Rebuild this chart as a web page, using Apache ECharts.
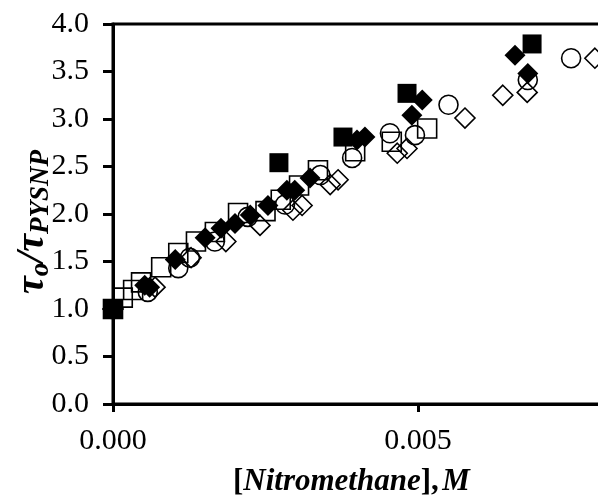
<!DOCTYPE html>
<html>
<head>
<meta charset="utf-8">
<script src="https://cdn.jsdelivr.net/npm/echarts@6/dist/echarts.min.js"></script>
<style>html,body{margin:0;padding:0;background:#fff}#c{width:598px;height:495px}</style>
</head>
<body>
<div id="c"></div>
<script>
// ---- data (x = [Nitromethane] M, y = tau0/tau) ----
const filledSquares = [[0,1.0],[0.00272,2.54],[0.00377,2.81],[0.00482,3.27],[0.00687,3.79]];
const filledDiamonds = [[0,1.0],[0.00052,1.25],[0.0006,1.23],[0.00102,1.52],[0.00151,1.75],[0.00177,1.85],[0.002,1.9],[0.00225,1.99],[0.00254,2.09],[0.00285,2.25],[0.00298,2.25],[0.00323,2.38],[0.004,2.78],[0.00413,2.81],[0.0049,3.04],[0.00507,3.2],[0.00659,3.67],[0.0068,3.48]];
const openCircles = [[0,1.0],[0.00057,1.18],[0.00107,1.43],[0.00126,1.54],[0.00167,1.71],[0.00221,1.97],[0.00282,2.1],[0.0034,2.41],[0.00392,2.59],[0.00454,2.85],[0.00495,2.83],[0.0055,3.15],[0.0068,3.41],[0.00751,3.64]];
const openSquares = [[0,1.0],[0.00016,1.12],[0.00033,1.2],[0.00046,1.28],[0.00079,1.44],[0.00107,1.59],[0.00136,1.71],[0.00167,1.81],[0.00205,2.01],[0.0025,2.03],[0.00275,2.15],[0.00305,2.3],[0.00336,2.46],[0.00397,2.66],[0.00457,2.76],[0.00515,2.9]];
const openDiamonds = [[0,1.0],[0.00069,1.23],[0.00128,1.54],[0.00185,1.71],[0.00241,1.88],[0.00295,2.04],[0.0031,2.09],[0.00356,2.31],[0.00369,2.36],[0.00466,2.64],[0.00482,2.69],[0.00577,3.01],[0.00639,3.25],[0.00679,3.28],[0.0079,3.64]];
const xTicks = {min:0, max:0.010, interval:0.005};
const yTicks = {min:0, max:4, interval:0.5};

const serif = '"Liberation Serif","Times New Roman",serif';
const chart = echarts.init(document.getElementById('c'), null, {renderer:'canvas'});
const openStyle = {color:'transparent', borderColor:'#000', borderWidth:1.6, opacity:1};
chart.setOption({
  animation:false,
  grid:{left:113, top:24, width:610, height:380, outerBoundsMode:'none', containLabel:false, show:true, borderColor:'#000', borderWidth:3, backgroundColor:'transparent'},
  xAxis:{type:'value', min:xTicks.min, max:xTicks.max, interval:xTicks.interval,
    axisLine:{show:true, onZero:false, lineStyle:{color:'#000', width:3}},
    axisTick:{show:true, inside:false, length:8, lineStyle:{color:'#000', width:3}},
    splitLine:{show:false},
    axisLabel:{margin:22, color:'#000', fontSize:30, fontFamily:serif, formatter:v=>v.toFixed(3)}
  },
  yAxis:{type:'value', min:yTicks.min, max:yTicks.max, interval:yTicks.interval,
    axisLine:{show:true, lineStyle:{color:'#000', width:3}},
    axisTick:{show:true, inside:false, length:10, lineStyle:{color:'#000', width:3}},
    splitLine:{show:false},
    axisLabel:{margin:24, color:'#000', fontSize:30, fontFamily:serif, formatter:v=>v.toFixed(1)}
  },
  graphic:[
    {type:'text', x:233, y:466, style:{
      text:'{b|[}{i|Nitromethane}{b|],} {i|M}',
      rich:{
        b:{fontSize:31, fontFamily:serif, fontWeight:'bold', fill:'#000'},
        i:{fontSize:31, fontFamily:serif, fontWeight:'bold', fontStyle:'italic', fill:'#000'}
      }}},
    {type:'text', x:33, y:222, rotation:Math.PI/2, style:{
      text:'{t|τ}{s|o}{t|/τ}{s|PYSNP}', align:'center', verticalAlign:'middle',
      rich:{
        t:{fontSize:40, fontFamily:serif, fontStyle:'italic', fontWeight:'bold', fill:'#000'},
        s:{fontSize:27, fontFamily:serif, fontStyle:'italic', fontWeight:'bold', fill:'#000', padding:[16,0,0,0]}
      }}}
  ],
  series:[
    {type:'scatter', data:openSquares, symbol:'rect', symbolSize:19, clip:false, itemStyle:openStyle},
    {type:'scatter', data:openCircles, symbol:'circle', symbolSize:19, clip:false, itemStyle:openStyle},
    {type:'scatter', data:openDiamonds, symbol:'diamond', symbolSize:20, clip:false, itemStyle:openStyle},
    {type:'scatter', data:filledDiamonds, symbol:'diamond', symbolSize:21, clip:false, itemStyle:{color:'#000', opacity:1}},
    {type:'scatter', data:filledSquares, symbol:'rect', symbolSize:19, clip:false, itemStyle:{color:'#000', opacity:1}}
  ]
});
</script>
</body>
</html>
